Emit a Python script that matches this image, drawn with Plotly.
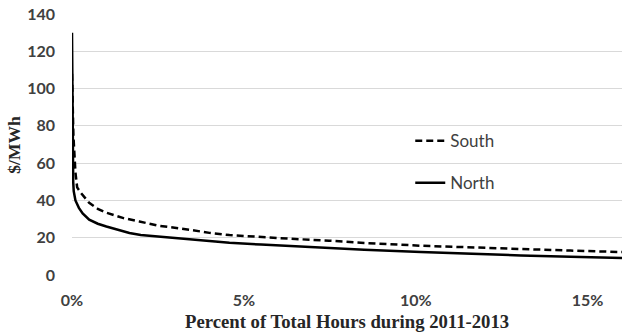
import plotly.graph_objects as go

# Data (percent of total hours, $/MWh)
north_x = [0, 0.005, 0.01, 0.02, 0.035, 0.05, 0.1, 0.2, 0.31, 0.5, 0.75, 1.0, 1.3, 1.67,
           2.0, 2.44, 3.0, 3.41, 4.0, 4.58, 5.5, 6.5, 7.48, 8.5, 10.15, 11.5, 13.06, 14.5, 16]
north_y = [130, 100, 75, 58, 50, 45, 40, 36, 33, 29.7, 27.5, 26, 24.3, 22.5,
           21.4, 20.7, 20.1, 19.5, 18.4, 17.3, 16.3, 15.3, 14.5, 13.6, 12.3, 11.4, 10.5, 9.8, 9.1]

south_x = [0, 0.01, 0.02, 0.04, 0.07, 0.1, 0.15, 0.26, 0.5, 0.75, 1.0, 1.5, 1.96, 2.5,
           3.41, 4.0, 4.58, 5.5, 6.5, 7.48, 8.5, 10.15, 11.5, 13.06, 14.5, 16]
south_y = [108, 95, 85, 75, 65, 55, 47, 44, 38.7, 35.5, 33.4, 30.5, 28.7, 26.5,
           24.3, 22.6, 21.4, 20.3, 19.3, 18.4, 17.2, 15.7, 14.8, 13.9, 13.1, 12.3]

x_ticks = [0, 5, 10, 15]
y_ticks = [0, 20, 40, 60, 80, 100, 120, 140]

fig = go.Figure()
fig.add_trace(go.Scatter(x=south_x, y=south_y, mode="lines", name="South",
                         line=dict(color="black", width=2.5, dash="7px,4px"),
                         legend="legend"))
fig.add_trace(go.Scatter(x=north_x, y=north_y, mode="lines", name="North",
                         line=dict(color="black", width=2.5),
                         legend="legend2"))

tick_font = dict(family="Lato", size=16, color="#404040", weight="bold")
leg_font = dict(family="Lato", size=17, color="#404040")

fig.update_layout(
    width=622, height=334,
    margin=dict(l=72, r=0, t=14, b=59),
    paper_bgcolor="white", plot_bgcolor="white",
    showlegend=True,
    legend=dict(x=0.615, y=0.513, xanchor="left", yanchor="middle",
                font=leg_font, bgcolor="rgba(0,0,0,0)"),
    legend2=dict(x=0.615, y=0.352, xanchor="left", yanchor="middle",
                 font=leg_font, bgcolor="rgba(0,0,0,0)"),
    xaxis=dict(range=[0, 16], tickvals=x_ticks, ticktext=[f"{v}%" for v in x_ticks],
               showgrid=False, zeroline=False, showline=False,
               tickfont=tick_font, ticks="", ticklabelstandoff=14),
    yaxis=dict(range=[0, 140], tickvals=y_ticks, showgrid=True, gridcolor="#d9d9d9",
               gridwidth=1, zeroline=False, showline=False,
               tickfont=tick_font, ticks="", ticklabelstandoff=16),
    annotations=[
        dict(text="Percent of Total Hours during 2011-2013", xref="paper", yref="paper",
             x=0.5, y=-0.178, xanchor="center", yanchor="middle", showarrow=False,
             font=dict(family="Liberation Serif", size=18.7, color="#262626", weight="bold")),
        dict(text="$/MWh", xref="paper", yref="paper", x=-0.107, y=0.5,
             xanchor="center", yanchor="middle", textangle=-90, showarrow=False,
             font=dict(family="Liberation Serif", size=17.5, color="#262626", weight="bold")),
    ],
)

fig.write_html("out.html")
